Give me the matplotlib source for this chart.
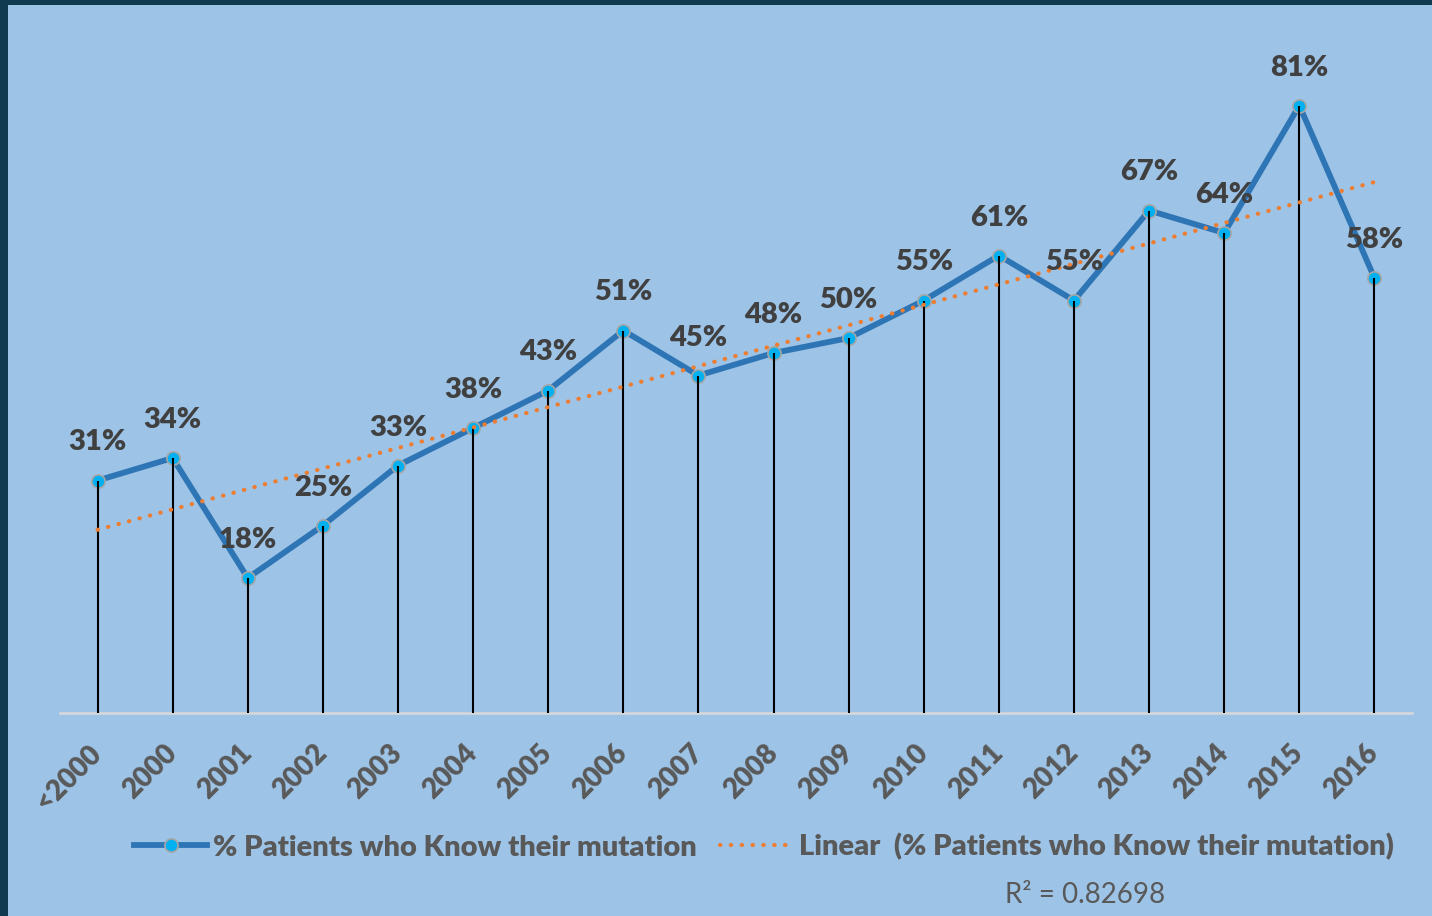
import numpy as np
import matplotlib
matplotlib.use("Agg")
import matplotlib.pyplot as plt
from matplotlib.patches import Rectangle
from matplotlib.lines import Line2D

categories = ["<2000", "2000", "2001", "2002", "2003", "2004", "2005", "2006", "2007",
              "2008", "2009", "2010", "2011", "2012", "2013", "2014", "2015", "2016"]
values = [31, 34, 18, 25, 33, 38, 43, 51, 45, 48, 50, 55, 61, 55, 67, 64, 81, 58]
series_name = "% Patients who Know their mutation"
trend_name = "Linear  (% Patients who Know their mutation)"
r2_text = "R\u00b2 = 0.82698"

plt.rcParams['font.family'] = ['Lato', 'DejaVu Sans']

W, H = 1432, 916
fig = plt.figure(figsize=(W / 100, H / 100), dpi=100)
fig.patch.set_facecolor('#0F3A4F')
fig.add_artist(Rectangle((8 / W, 0), 1, (H - 5) / H, transform=fig.transFigure,
                         facecolor='#9DC3E6', edgecolor='none', zorder=0))

ax = fig.add_axes([60 / W, (H - 713) / H, 1352 / W, (713 - 38) / H])
ax.set_facecolor('none')
x = np.arange(len(categories))
ax.set_xlim(-0.5, len(categories) - 0.5)
ax.set_ylim(0, 90)

ax.vlines(x, 0, values, color='black', lw=1.5, zorder=4)
ax.plot(x, values, color='#2E75B6', lw=4.2, marker='o', ms=9.5, mfc='#00B0F0',
        mec='#A6A6A6', mew=1.2, zorder=3, solid_capstyle='round')

coef = np.polyfit(x, values, 1)
trend = np.polyval(coef, x)
ax.plot(x, trend, color='#ED7D31', lw=3, dashes=(0.1, 2.5), dash_capstyle='round', zorder=5)

for xi, v in zip(x, values):
    ax.annotate(f"{v}%", (xi, v), xytext=(0, 38), textcoords='offset pixels',
                ha='center', va='center', fontsize=21, fontweight='heavy', color='#404040', zorder=6)

for s in ['top', 'right', 'left']:
    ax.spines[s].set_visible(False)
ax.spines['bottom'].set_color('#D9D9D9')
ax.spines['bottom'].set_linewidth(1.8)
ax.set_yticks([])
ax.set_xticks(x)
ax.set_xticklabels(categories, rotation=45, ha='right', va='center', rotation_mode='anchor',
                   fontsize=20, fontweight='heavy', color='#595959')
ax.tick_params(axis='x', length=0, pad=26)

h1 = Line2D([], [], color='#2E75B6', lw=4.2, marker='o', ms=9.5, mfc='#00B0F0', mec='#A6A6A6', mew=1.2)
h2 = Line2D([], [], color='#ED7D31', lw=3, dashes=(0.1, 2.5), dash_capstyle='round')
leg = fig.legend([h1, h2], [series_name, trend_name], loc='center',
                 bbox_to_anchor=(764 / W, (H - 847) / H), ncol=2, frameon=False,
                 handlelength=2.5, handletextpad=0.2, columnspacing=0.8,
                 prop={'size': 21, 'weight': 'heavy'})
for t in leg.get_texts():
    t.set_color('#595959')

fig.text(1085 / W, (H - 895) / H, r2_text, ha='center', va='center', fontsize=20, color='#595959')

fig.savefig('out.png', dpi=100, facecolor=fig.get_facecolor())
